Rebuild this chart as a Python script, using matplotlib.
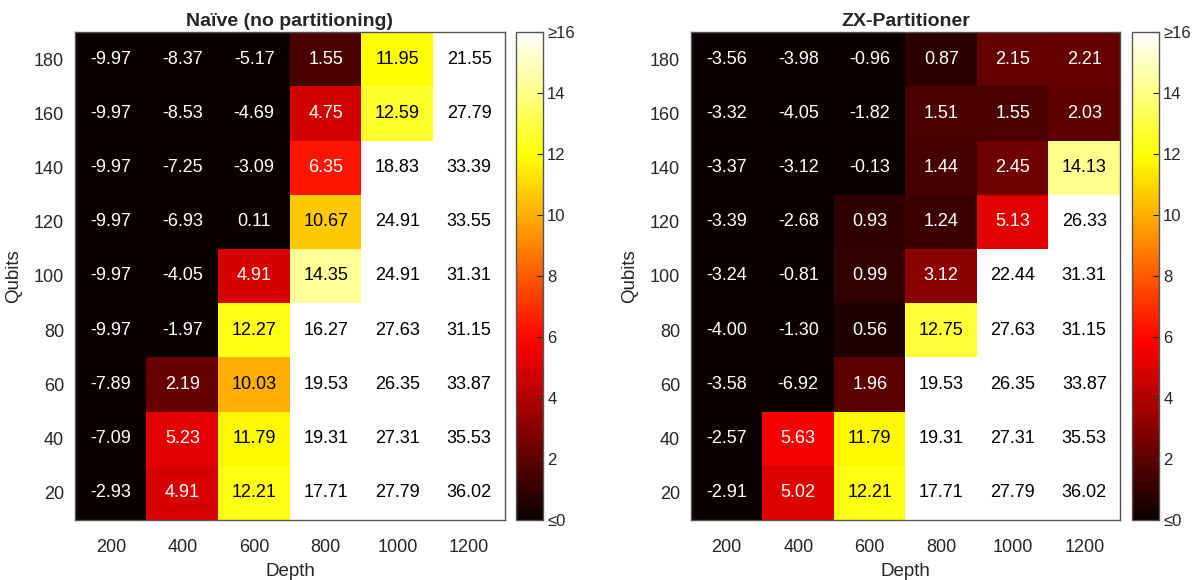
import numpy as np
import matplotlib
matplotlib.use("Agg")
import matplotlib.pyplot as plt

plt.rcParams['font.family'] = ['Liberation Sans', 'DejaVu Sans']

depths = [200, 400, 600, 800, 1000, 1200]
qubits = [20, 40, 60, 80, 100, 120, 140, 160, 180]

# rows go from 20 qubits (bottom) to 180 qubits (top)
naive = [
    [-2.93, 4.91, 12.21, 17.71, 27.79, 36.02],
    [-7.09, 5.23, 11.79, 19.31, 27.31, 35.53],
    [-7.89, 2.19, 10.03, 19.53, 26.35, 33.87],
    [-9.97, -1.97, 12.27, 16.27, 27.63, 31.15],
    [-9.97, -4.05, 4.91, 14.35, 24.91, 31.31],
    [-9.97, -6.93, 0.11, 10.67, 24.91, 33.55],
    [-9.97, -7.25, -3.09, 6.35, 18.83, 33.39],
    [-9.97, -8.53, -4.69, 4.75, 12.59, 27.79],
    [-9.97, -8.37, -5.17, 1.55, 11.95, 21.55],
]
zx = [
    [-2.91, 5.02, 12.21, 17.71, 27.79, 36.02],
    [-2.57, 5.63, 11.79, 19.31, 27.31, 35.53],
    [-3.58, -6.92, 1.96, 19.53, 26.35, 33.87],
    [-4.00, -1.30, 0.56, 12.75, 27.63, 31.15],
    [-3.24, -0.81, 0.99, 3.12, 22.44, 31.31],
    [-3.39, -2.68, 0.93, 1.24, 5.13, 26.33],
    [-3.37, -3.12, -0.13, 1.44, 2.45, 14.13],
    [-3.32, -4.05, -1.82, 1.51, 1.55, 2.03],
    [-3.56, -3.98, -0.96, 0.87, 2.15, 2.21],
]
titles = ["Naïve (no partitioning)", "ZX-Partitioner"]
cbar_ticks = [0, 2, 4, 6, 8, 10, 12, 14, 16]
cbar_labels = ["≤0", "2", "4", "6", "8", "10", "12", "14", "≥16"]

W, H = 1201, 580
fig = plt.figure(figsize=(W / 100, H / 100), dpi=100)
grey = "#262626"


def box(x0, x1, y0, y1):
    return [x0 / W, 1 - y1 / H, (x1 - x0) / W, (y1 - y0) / H]


layout = [((75, 505), (516, 543)), ((691, 1120), (1132, 1159))]

for data, title, (axx, cbx) in zip([naive, zx], titles, layout):
    vals = np.array(data)
    ax = fig.add_axes(box(axx[0], axx[1], 32, 520))
    im = ax.imshow(vals, cmap="hot", vmin=0, vmax=16, origin="lower",
                   aspect="auto", interpolation="nearest")
    for i in range(len(qubits)):
        for j in range(len(depths)):
            v = vals[i, j]
            ax.text(j, i, "%.2f" % v, ha="center", va="center", fontsize=13,
                    color="white" if v < 8 else "black")
    ax.set_xticks(range(len(depths)))
    ax.set_xticklabels([str(d) for d in depths])
    ax.set_yticks(range(len(qubits)))
    ax.set_yticklabels([str(q) for q in qubits])
    ax.tick_params(length=0, labelsize=13, colors=grey)
    ax.tick_params(axis="x", pad=14)
    ax.tick_params(axis="y", pad=8)
    ax.set_xlabel("Depth", fontsize=13.5, color=grey, labelpad=5)
    ax.set_ylabel("Qubits", fontsize=13.5, color=grey, labelpad=8)
    ax.set_title(title, fontsize=14, fontweight="bold", color=grey, pad=4)
    for s in ax.spines.values():
        s.set_color("#555555")
        s.set_linewidth(1.0)

    cax = fig.add_axes(box(cbx[0], cbx[1], 32, 520))
    cb = fig.colorbar(im, cax=cax, ticks=cbar_ticks)
    cb.ax.set_yticklabels(cbar_labels)
    cb.ax.tick_params(direction="in", length=4, labelsize=12, colors=grey,
                      width=0.8, pad=3)
    cb.outline.set_edgecolor("#555555")
    cb.outline.set_linewidth(1.0)

fig.savefig("out.png", dpi=100)
